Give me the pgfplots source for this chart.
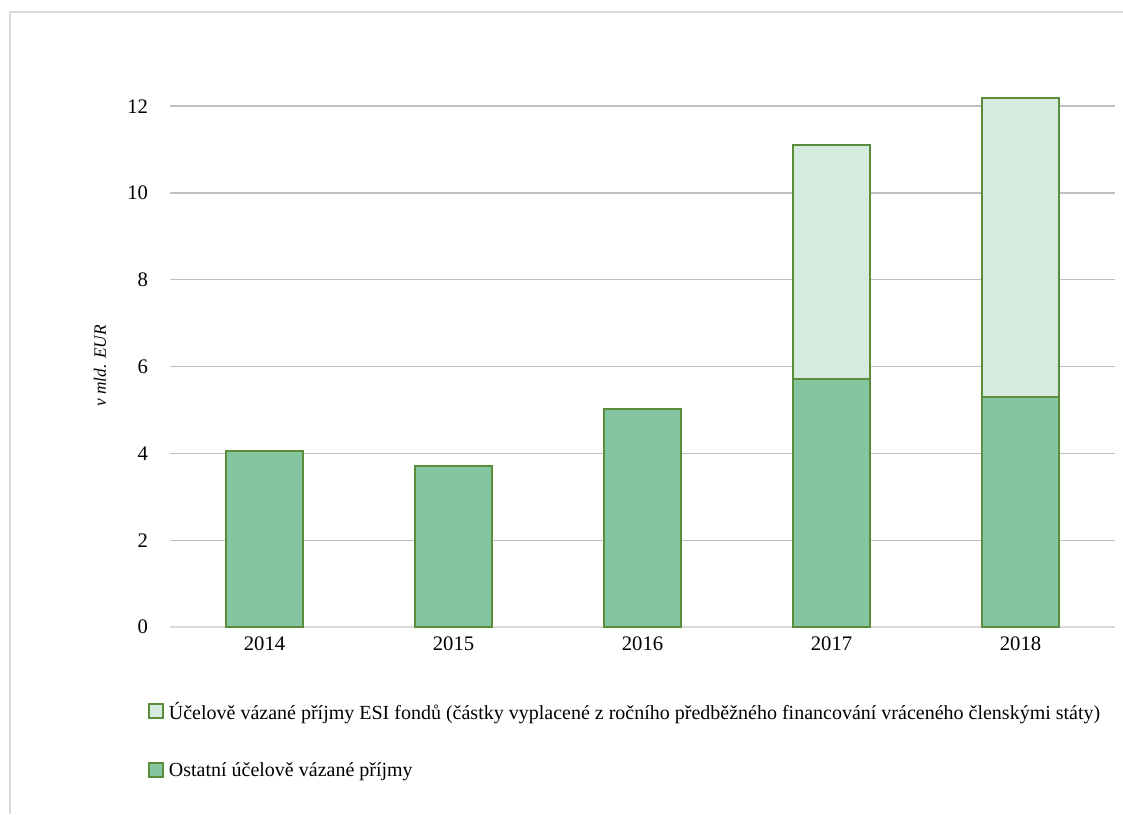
\documentclass[border=0pt]{standalone}
\usepackage{pgfplots}
\pgfplotsset{compat=1.18}
\usepackage{fontspec}
\setmainfont{Liberation Serif}
\definecolor{darkfill}{HTML}{84C6A0}
\definecolor{lightfill}{HTML}{D5EBDF}
\definecolor{edge}{HTML}{5B8D3D}
\definecolor{grid}{HTML}{D9D9D9}
\definecolor{frame}{HTML}{D9D9D9}
\begin{document}
\begin{tikzpicture}
\useasboundingbox (0,0) rectangle (842.25pt,610.5pt);
\draw[frame, line width=1.2pt] (7.5pt,0) -- (7.5pt,601.5pt) -- (842.25pt,601.5pt);
\begin{axis}[
  at={(127.5pt,140.25pt)}, anchor=south west,
  scale only axis, width=708.75pt, height=406.9pt,
  ybar stacked, bar width=0.41,
  xmin=-0.5, xmax=4.5, ymin=0, ymax=12.5,
  xtick=data, xticklabels={2014,2015,2016,2017,2018},
  ytick={0,2,4,6,8,10,12},
  axis line style={draw=none},
  axis x line*=bottom,
  x axis line style={draw=grid, line width=1pt},
  xmajorgrids=false, ymajorgrids=true, grid style={grid, line width=1pt},
  xtick style={draw=none}, ytick style={draw=none},
  major tick length=0pt,
  tick label style={font=\fontsize{15.5}{17}\selectfont},
  /pgf/number format/assume math mode=true,
  yticklabel style={xshift=-13pt},
  xticklabel style={yshift=-4pt},
  ylabel={\itshape v mld. EUR},
  ylabel style={at={(axis description cs:-0.074,0.481)}, anchor=center, font=\fontsize{13}{15}\selectfont},
  legend style={at={(axis description cs:-0.0233,-0.133)}, anchor=north west, draw=none, fill=none,
    font=\fontsize{15}{17}\selectfont, row sep=27pt, inner sep=0pt},
  legend cell align=left,
  reverse legend,
  legend image code/.code={\draw[#1] (0pt,-5pt) rectangle (10.5pt,5.5pt);},
]
\addplot[fill=darkfill, draw=edge, line width=1.5pt] coordinates {(0,4.05) (1,3.71) (2,5.02) (3,5.71) (4,5.30)};
\addlegendentry{\hspace{1.5pt}Ostatní účelově vázané příjmy}
\addplot[fill=lightfill, draw=edge, line width=1.5pt] coordinates {(0,0) (1,0) (2,0) (3,5.40) (4,6.89)};
\addlegendentry{\hspace{1.5pt}Účelově vázané příjmy ESI fondů (částky vyplacené z ročního předběžného financování vráceného členskými státy)}
\end{axis}
\end{tikzpicture}
\end{document}
